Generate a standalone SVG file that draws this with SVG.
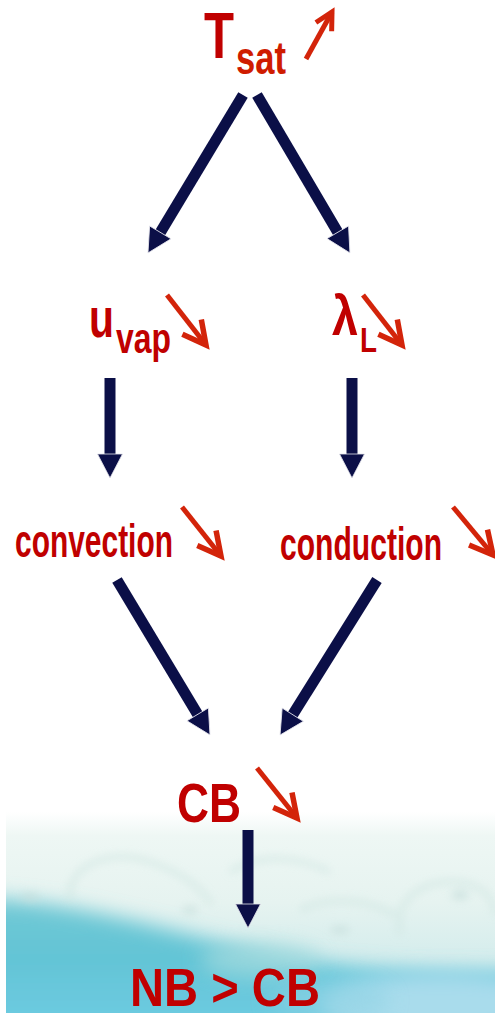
<svg xmlns="http://www.w3.org/2000/svg" width="495" height="1013" viewBox="0 0 495 1013">
<style>
.t{font-family:"Liberation Sans",Arial,sans-serif;font-weight:bold;fill:#c00000}
.s{fill:#cf1c00}
.nav{stroke:#0b0f47;stroke-width:11;fill:none;stroke-linecap:butt}
.red{stroke:#d3240a;stroke-width:5;fill:none;stroke-linecap:butt}
</style>
<defs>
<marker id="nh" markerUnits="userSpaceOnUse" orient="auto" refX="2" refY="0" markerWidth="30" markerHeight="30" viewBox="-2 -15 30 30" overflow="visible">
<path d="M0,-12.5 L24,0 L0,12.5 Z" fill="#0b0f47" stroke="#e6e6ee" stroke-width="0.8"/>
</marker>
<marker id="rh" markerUnits="userSpaceOnUse" orient="auto" refX="0" refY="0" markerWidth="30" markerHeight="30" overflow="visible">
<path d="M-23,-12 L0,0 L-23,12" fill="none" stroke="#d3240a" stroke-width="5.5" stroke-linejoin="miter" stroke-miterlimit="10"/>
</marker>
<marker id="rhs" markerUnits="userSpaceOnUse" orient="auto" refX="0" refY="0" markerWidth="30" markerHeight="30" overflow="visible">
<path d="M-17,-9 L0,0 L-17,9" fill="none" stroke="#d3240a" stroke-width="5" stroke-linejoin="miter" stroke-miterlimit="10"/>
</marker>
<linearGradient id="bgV" x1="0" y1="812" x2="0" y2="1013" gradientUnits="userSpaceOnUse">
<stop offset="0" stop-color="#ffffff"/>
<stop offset="0.12" stop-color="#eef7f4"/>
<stop offset="0.45" stop-color="#e6f3f0"/>
<stop offset="0.75" stop-color="#d3ecec"/>
<stop offset="1" stop-color="#c4e6ec"/>
</linearGradient>
<linearGradient id="teal" x1="0" y1="900" x2="0" y2="1013" gradientUnits="userSpaceOnUse">
<stop offset="0" stop-color="#72c9d5"/>
<stop offset="0.5" stop-color="#62c4d5"/>
<stop offset="1" stop-color="#6ccae0"/>
</linearGradient>
<filter id="bl" x="-20%" y="-50%" width="140%" height="200%"><feGaussianBlur stdDeviation="10"/></filter>
<filter id="bl2" x="-20%" y="-50%" width="140%" height="200%"><feGaussianBlur stdDeviation="4"/></filter>
<clipPath id="bgc"><rect x="6" y="812" width="489" height="201"/></clipPath>
</defs>

<g id="background" clip-path="url(#bgc)">
<rect x="6" y="812" width="489" height="201" fill="url(#bgV)"/>
<path d="M-20,898 C60,900 150,925 230,945 C300,962 380,975 520,972 L520,1040 L-20,1040 Z" fill="url(#teal)" filter="url(#bl)"/>
<ellipse cx="260" cy="960" rx="60" ry="18" fill="#a6dbde" filter="url(#bl)" opacity="0.7"/>
<ellipse cx="440" cy="1005" rx="120" ry="32" fill="#a9dcec" filter="url(#bl)"/>
<ellipse cx="330" cy="1000" rx="60" ry="20" fill="#8fd3e4" filter="url(#bl)" opacity="0.6"/>
<g fill="none" stroke="#cfe5e1" stroke-width="5" filter="url(#bl2)" opacity="0.7">
<path d="M70,900 C66,865 110,848 150,862 C180,872 200,885 212,905"/>
<path d="M230,872 C260,852 300,857 330,872"/>
<path d="M400,935 C392,895 430,875 470,884 C490,892 495,905 495,915"/>
<path d="M300,910 C330,895 370,900 395,915"/>
</g>
<g fill="#c6dedb" filter="url(#bl2)" opacity="0.7">
<ellipse cx="30" cy="897" rx="10" ry="4"/>
<ellipse cx="190" cy="910" rx="8" ry="4"/>
<ellipse cx="340" cy="930" rx="10" ry="4"/>
<ellipse cx="460" cy="895" rx="9" ry="5"/>
</g>
</g>

<g id="connectors">
<line class="nav" x1="243" y1="95" x2="159.3" y2="234.1" marker-end="url(#nh)"/>
<line class="nav" x1="257" y1="95" x2="338.8" y2="234" marker-end="url(#nh)"/>
<line class="nav" x1="110" y1="378" x2="110" y2="456" marker-end="url(#nh)"/>
<line class="nav" x1="352" y1="378" x2="352" y2="456" marker-end="url(#nh)"/>
<line class="nav" x1="117" y1="580" x2="198.7" y2="716.1" marker-end="url(#nh)"/>
<line class="nav" x1="377" y1="580" x2="291.7" y2="716.4" marker-end="url(#nh)"/>
<line class="nav" x1="248" y1="830" x2="248" y2="906" marker-end="url(#nh)"/>
</g>

<g id="node-tsat">
<text class="t" x="204" y="58" font-size="64" textLength="30" lengthAdjust="spacingAndGlyphs">T</text>
<text class="t s" x="236" y="74" font-size="46" textLength="50" lengthAdjust="spacingAndGlyphs">sat</text>
<line class="red" x1="306" y1="59" x2="332" y2="12" marker-end="url(#rhs)"/>
</g>

<g id="node-uvap">
<text class="t" x="89" y="337" font-size="56" textLength="25" lengthAdjust="spacingAndGlyphs">u</text>
<text class="t" x="116" y="353" font-size="42" textLength="55" lengthAdjust="spacingAndGlyphs">vap</text>
<line class="red" x1="167" y1="295" x2="206" y2="345" marker-end="url(#rh)"/>
</g>

<g id="node-lambda">
<text class="t" x="332" y="335" font-size="55" textLength="26" lengthAdjust="spacingAndGlyphs">λ</text>
<text class="t" x="360" y="352" font-size="35" textLength="17" lengthAdjust="spacingAndGlyphs">L</text>
<line class="red" x1="363" y1="295" x2="402" y2="345" marker-end="url(#rh)"/>
</g>

<g id="node-convection">
<text class="t" x="15" y="557" font-size="46" textLength="158" lengthAdjust="spacingAndGlyphs">convection</text>
<line class="red" x1="182" y1="507" x2="221" y2="556" marker-end="url(#rh)"/>
</g>

<g id="node-conduction">
<text class="t" x="280" y="560" font-size="46" textLength="162" lengthAdjust="spacingAndGlyphs">conduction</text>
<line class="red" x1="453" y1="507" x2="493" y2="555" marker-end="url(#rh)"/>
</g>

<g id="node-cb">
<text class="t" x="177" y="822" font-size="56" textLength="64" lengthAdjust="spacingAndGlyphs">CB</text>
<line class="red" x1="257" y1="768" x2="297" y2="818" marker-end="url(#rh)"/>
</g>

<g id="node-nbcb">
<text class="t" x="130" y="1006" font-size="53" textLength="190" lengthAdjust="spacingAndGlyphs">NB &gt; CB</text>
</g>
</svg>
